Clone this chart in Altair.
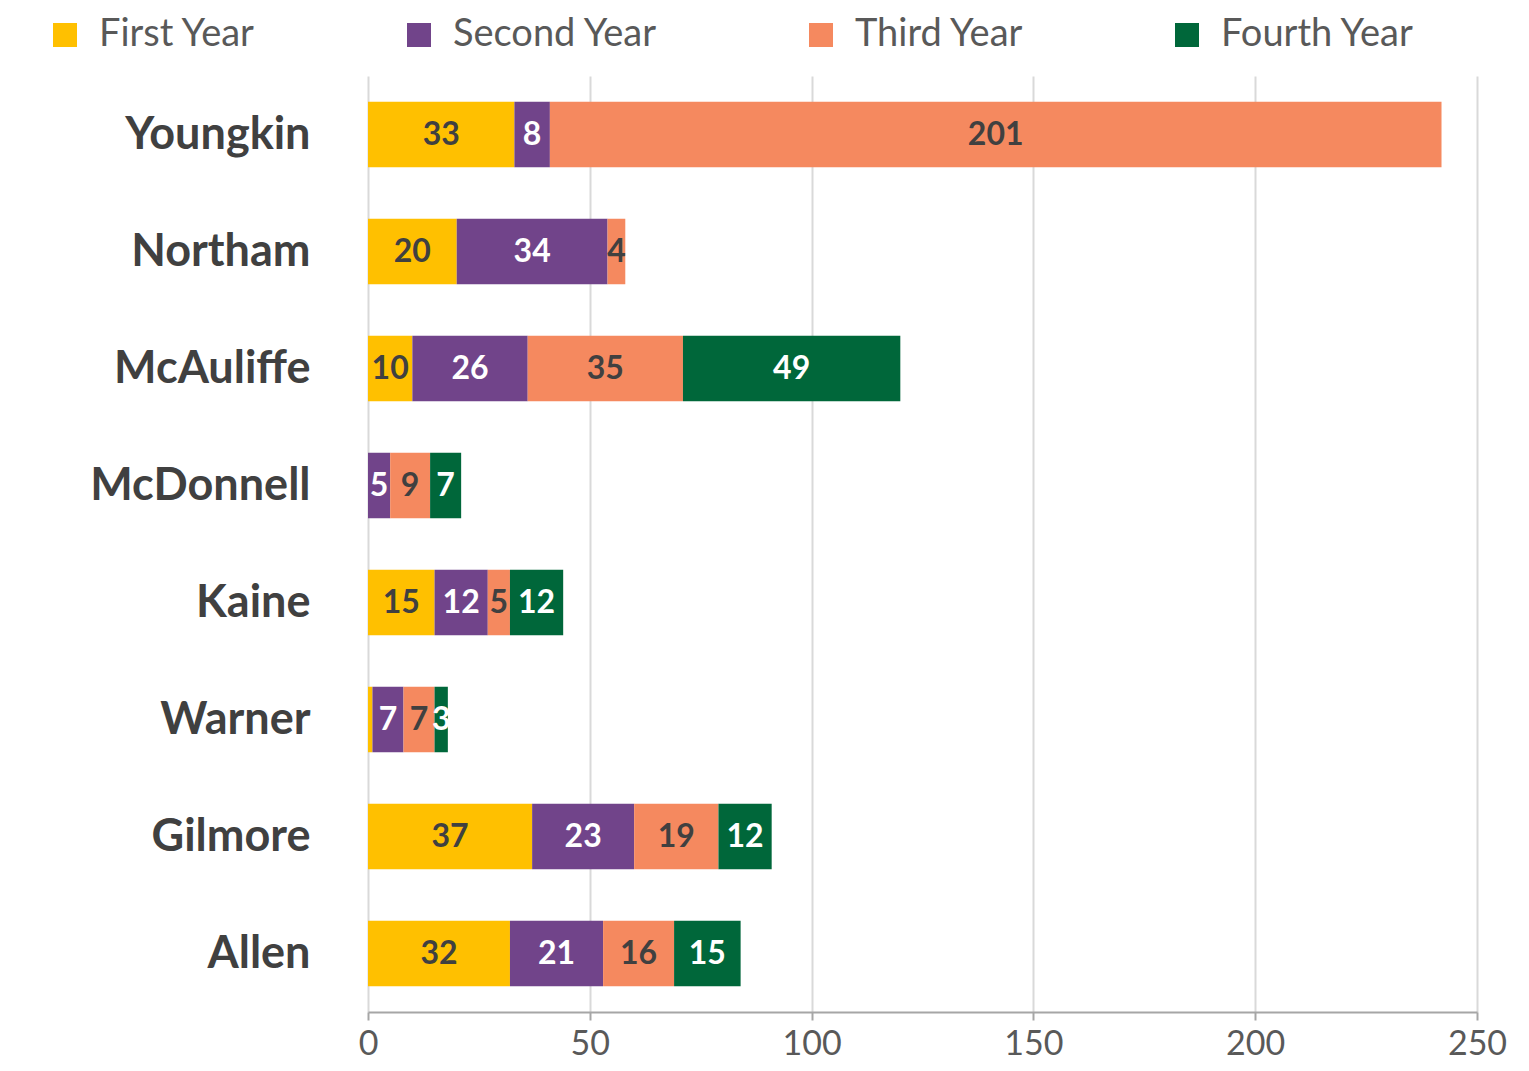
import altair as alt
import pandas as pd

names = ["Youngkin", "Northam", "McAuliffe", "McDonnell", "Kaine", "Warner", "Gilmore", "Allen"]
years = ["First Year", "Second Year", "Third Year", "Fourth Year"]
first_year = [33, 20, 10, 0, 15, 1, 37, 32]
second_year = [8, 34, 26, 5, 12, 7, 23, 21]
third_year = [201, 4, 35, 9, 5, 7, 19, 16]
fourth_year = [0, 0, 49, 7, 12, 3, 12, 15]
x_ticks = [0, 50, 100, 150, 200, 250]

colors = ["#FFC000", "#71448A", "#F5895F", "#00673A"]
label_colors = ["#404040", "#FFFFFF", "#404040", "#FFFFFF"]

rows = []
for i, n in enumerate(names):
    for j, (y, vals) in enumerate(zip(years, [first_year, second_year, third_year, fourth_year])):
        rows.append({"name": n, "year": y, "value": vals[i], "order": j, "tc": label_colors[j]})
df = pd.DataFrame(rows)

y_enc = alt.Y(
    "name:N", sort=names, title=None,
    scale=alt.Scale(paddingInner=0.44, paddingOuter=0.22),
    axis=alt.Axis(domain=False, ticks=False, labelFontSize=45, labelFontWeight="bold",
                  labelColor="#404040", labelPadding=58, labelFont="Lato", labelLimit=400),
)

bars = alt.Chart(df).mark_bar().encode(
    y=y_enc,
    x=alt.X(
        "value:Q", stack="zero", title=None,
        scale=alt.Scale(domain=[0, 250], nice=False),
        axis=alt.Axis(values=x_ticks, grid=True, gridColor="#D9D9D9", gridWidth=2,
                      domainColor="#A6A6A6", domainWidth=2, tickColor="#A6A6A6", tickWidth=2,
                      tickSize=8, labelFontSize=34, labelColor="#595959", labelFont="Lato",
                      labelBaseline="alphabetic", labelPadding=34, labelFlush=False),
    ),
    color=alt.Color(
        "year:N", sort=years,
        scale=alt.Scale(domain=years, range=colors),
        legend=alt.Legend(orient="none", legendX=-322, legendY=-60, direction="horizontal",
                          title=None, symbolType="square", symbolSize=576, symbolStrokeWidth=0,
                          labelFont="Lato", labelFontSize=38, labelColor="#595959",
                          labelOffset=15, columnPadding=144, padding=0, labelLimit=400),
    ),
    order=alt.Order("order:Q"),
)

text = alt.Chart(df).transform_stack(
    stack="value", groupby=["name"], as_=["x0", "x1"],
    sort=[alt.SortField("order", order="ascending")],
).transform_calculate(
    mid="(datum.x0 + datum.x1) / 2"
).transform_filter(
    "datum.value >= 2"
).mark_text(font="Lato", fontWeight="bold", fontSize=32, baseline="middle").encode(
    y=alt.Y("name:N", sort=names, title=None),
    x=alt.X("mid:Q", title=None),
    text=alt.Text("value:Q"),
    color=alt.Color("tc:N", scale=None, legend=None),
)

chart = alt.layer(bars, text).resolve_scale(color="independent").properties(
    width=1109, height=936,
    autosize=alt.AutoSizeParams(type="none"),
    padding={"left": 360, "top": 68, "right": 44, "bottom": 50},
).configure_view(stroke=None)

chart.save("out.html", embed_options={"renderer": "svg", "actions": False})
